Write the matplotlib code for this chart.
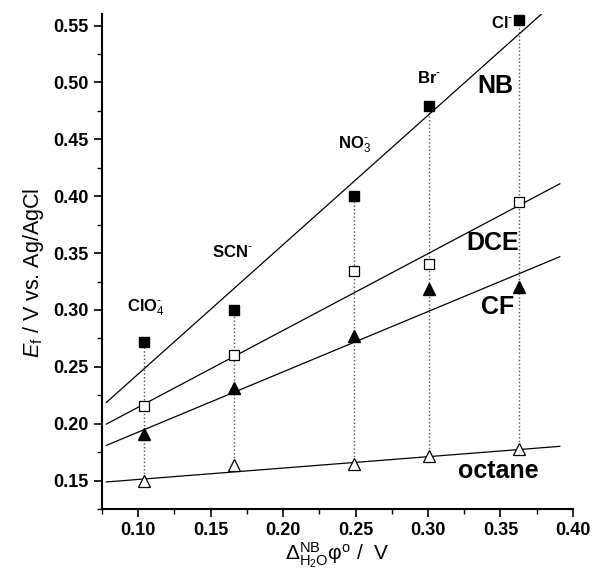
import matplotlib
matplotlib.use("Agg")
import matplotlib.pyplot as plt
import numpy as np
from matplotlib.ticker import MultipleLocator, FormatStrFormatter

plt.rcParams['font.family'] = ['Liberation Sans', 'DejaVu Sans']
plt.rcParams['mathtext.fontset'] = 'custom'
plt.rcParams['mathtext.rm'] = 'Liberation Sans'
plt.rcParams['mathtext.it'] = 'Liberation Sans:italic'
plt.rcParams['mathtext.bf'] = 'Liberation Sans:bold'

# Data
delta_phi = [0.104, 0.166, 0.249, 0.301, 0.363]
anions = [r'ClO$_4^{\mathbf{\text{-}}}$', r'SCN$^{\mathbf{\text{-}}}$', r'NO$_3^{\mathbf{\text{-}}}$',
          r'Br$^{\mathbf{\text{-}}}$', r'Cl$^{\mathbf{\text{-}}}$']
E_NB = [0.272, 0.300, 0.400, 0.479, 0.555]
E_DCE = [0.216, 0.260, 0.334, 0.340, 0.395]
E_CF = [0.191, 0.231, 0.277, 0.318, 0.320]
E_oct = [0.150, 0.164, 0.165, 0.172, 0.178]

# fitted lines (slope, intercept)
fit_NB = (1.137, 0.130)
fit_DCE = (0.675, 0.147)
fit_CF = (0.530, 0.1396)
fit_oct = (0.100, 0.141)
fit_x = [0.078, 0.391]

anion_label_pos = [(0.1055, 0.302), (0.165, 0.351), (0.249, 0.445), (0.301, 0.504), (0.351, 0.552)]
solvent_names = ['NB', 'DCE', 'CF', 'octane']
solvent_label_pos = [(0.3465, 0.4965), (0.345, 0.359), (0.348, 0.303), (0.3485, 0.158)]

fig = plt.figure(figsize=(5.93, 5.70), dpi=100)
ax = fig.add_axes([0.172, 0.107, 0.794, 0.868])

# dotted vertical connectors
for x, top, bot in zip(delta_phi, E_NB, E_oct):
    ax.plot([x, x], [bot, top], ls=':', color='#555555', lw=1.0, zorder=1)

fx = np.array(fit_x)
for (m, b) in [fit_NB, fit_DCE, fit_CF, fit_oct]:
    ax.plot(fx, m * fx + b, color='black', lw=0.9, zorder=2)

ax.plot(delta_phi, E_NB, 's', ms=7, mfc='black', mec='black', ls='none', zorder=3)
ax.plot(delta_phi, E_DCE, 's', ms=7, mfc='white', mec='black', mew=0.9, ls='none', zorder=3)
ax.plot(delta_phi, E_CF, '^', ms=9, mfc='black', mec='black', ls='none', zorder=3)
ax.plot(delta_phi, E_oct, '^', ms=9, mfc='white', mec='black', mew=0.9, ls='none', zorder=3)

for lab, (x, y) in zip(anions, anion_label_pos):
    ax.text(x, y, lab, ha='center', va='center', fontsize=12, fontweight='bold')

for lab, (x, y) in zip(solvent_names, solvent_label_pos):
    ax.text(x, y, lab, ha='center', va='center', fontsize=18, fontweight='bold')

ax.set_xlim(0.075, 0.40)
ax.set_ylim(0.125, 0.56)
ax.xaxis.set_minor_locator(MultipleLocator(0.025))
ax.yaxis.set_minor_locator(MultipleLocator(0.025))
ax.set_xticks([0.10, 0.15, 0.20, 0.25, 0.30, 0.35, 0.40])
ax.set_yticks([0.15, 0.20, 0.25, 0.30, 0.35, 0.40, 0.45, 0.50, 0.55])
ax.xaxis.set_major_formatter(FormatStrFormatter('%.2f'))
ax.yaxis.set_major_formatter(FormatStrFormatter('%.2f'))

ax.spines['top'].set_visible(False)
ax.spines['right'].set_visible(False)
ax.spines['left'].set_linewidth(1.5)
ax.spines['bottom'].set_linewidth(1.5)
ax.tick_params(which='major', direction='out', length=6, width=1.2, labelsize=13)
ax.tick_params(which='minor', direction='out', length=3.5, width=1.0)
for t in ax.get_xticklabels() + ax.get_yticklabels():
    t.set_fontweight('bold')

ax.set_ylabel(r'$E_{\rm f}$ / V vs. Ag/AgCl', fontsize=15.5)
ax.yaxis.set_label_coords(-0.118, 0.477)
fig.text(0.568, 0.017, r'$\Delta_{\rm H_2O}^{\rm NB}\mathrm{φ}^{\rm o}$ /  V', fontsize=15,
         ha='center', va='baseline')

fig.savefig('out.png', dpi=100)
